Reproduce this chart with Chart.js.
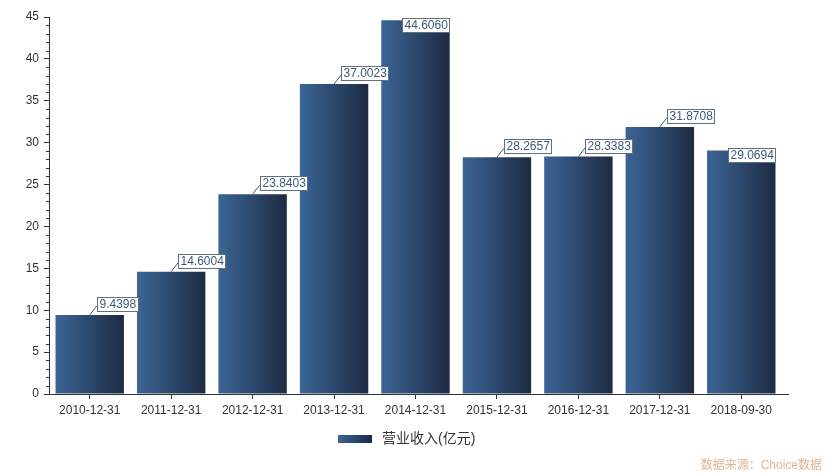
<!DOCTYPE html>
<html><head><meta charset="utf-8">
<script src="https://cdn.jsdelivr.net/npm/chart.js@4"></script>
<style>html,body{margin:0;padding:0;background:#fff;}#wrap{width:831px;height:474px;position:relative;}</style>
</head><body><div id="wrap"><canvas id="c" width="831" height="474"></canvas></div>
<script>
const categories = ['2010-12-31','2011-12-31','2012-12-31','2013-12-31','2014-12-31','2015-12-31','2016-12-31','2017-12-31','2018-09-30'];
const revenue = [9.4398, 14.6004, 23.8403, 37.0023, 44.6060, 28.2657, 28.3383, 31.8708, 29.0694];
const seriesName = '营业收入(亿元)';
const sourceNote = '数据来源：Choice数据';
const yMin = 0, yMax = 45, yStep = 5, yMinorStep = 1;

const FONT = '"Liberation Sans", Arial, "Noto Sans CJK SC", sans-serif';
const BAR_PCT = 0.84;

function barGradient(ctx, x0, x1) {
  const g = ctx.createLinearGradient(x0, 0, x1, 0);
  g.addColorStop(0, '#3b6596');
  g.addColorStop(1, '#1d2b42');
  return g;
}

const overlay = {
  id: 'overlay',
  afterDraw(chart) {
    const ctx = chart.ctx, ys = chart.scales.y, area = chart.chartArea;
    ctx.save();
    ctx.strokeStyle = '#333'; ctx.lineWidth = 1;
    for (let v = yMin; v <= yMax; v += yMinorStep) {
      if (v % yStep === 0) continue;
      const py = Math.round(ys.getPixelForValue(v)) + 0.5;
      ctx.beginPath(); ctx.moveTo(area.left - 3, py); ctx.lineTo(area.left, py); ctx.stroke();
    }
    // x axis line extends a little past the last category
    const ay = Math.round(area.bottom) + 0.5;
    ctx.beginPath(); ctx.moveTo(area.right, ay); ctx.lineTo(area.right + 7, ay); ctx.stroke();

    const meta = chart.getDatasetMeta(0);
    ctx.font = '12px ' + FONT;
    ctx.textBaseline = 'middle';
    meta.data.forEach((bar, i) => {
      const txt = revenue[i].toFixed(4);
      const w = ctx.measureText(txt).width + 4, h = 14;
      const cx = bar.x, top = bar.y, right = bar.x + bar.width / 2;
      let bx = cx + 7, by = top - 18, lead = true;
      if (bx + w > area.right + 7 || by < area.top) {
        bx = right - w; by = top - 2; lead = false;
      }
      if (lead) {
        ctx.strokeStyle = '#4a5a6a';
        ctx.beginPath(); ctx.moveTo(cx, top); ctx.lineTo(bx, top - 9); ctx.stroke();
      }
      ctx.fillStyle = '#fff';
      ctx.fillRect(Math.round(bx) + 0.5, Math.round(by) + 0.5, Math.round(w), h);
      ctx.strokeStyle = '#5f7080';
      ctx.strokeRect(Math.round(bx) + 0.5, Math.round(by) + 0.5, Math.round(w), h);
      ctx.fillStyle = '#3b5878';
      ctx.textAlign = 'left';
      ctx.fillText(txt, Math.round(bx) + 2.5, Math.round(by) + 8);
    });
    ctx.fillStyle = barGradient(ctx, 338, 372);
    ctx.fillRect(338, 435, 34, 8);
    ctx.fillStyle = '#333';
    ctx.font = '14px ' + FONT;
    ctx.textAlign = 'left';
    ctx.fillText(seriesName, 382, 439);
    ctx.fillStyle = '#e2b490';
    ctx.font = '12px ' + FONT;
    ctx.textAlign = 'right';
    ctx.fillText(sourceNote, 822, 466);
    ctx.restore();
  }
};

new Chart(document.getElementById('c'), {
  type: 'bar',
  data: {
    labels: categories,
    datasets: [{
      label: seriesName,
      data: revenue,
      borderWidth: 0,
      barPercentage: BAR_PCT,
      categoryPercentage: 1,
      backgroundColor: (c) => {
        const chart = c.chart, xs = chart.scales && chart.scales.x;
        if (!xs || c.dataIndex === undefined) return '#2c4a70';
        const cx = xs.getPixelForValue(c.dataIndex);
        const hw = (xs.width / categories.length) * BAR_PCT / 2;
        if (!isFinite(cx) || !isFinite(hw) || hw <= 0) return '#2c4a70';
        return barGradient(chart.ctx, cx - hw, cx + hw);
      }
    }]
  },
  options: {
    responsive: false,
    animation: false,
    devicePixelRatio: 1,
    layout: { padding: { left: 0, right: 49, top: 17, bottom: 50 } },
    plugins: { legend: { display: false }, tooltip: { enabled: false } },
    scales: {
      x: {
        grid: { display: true, drawOnChartArea: false, offset: false, tickLength: 5, color: '#333' },
        border: { display: true, color: '#333' },
        ticks: { color: '#333', font: { family: FONT, size: 12 }, padding: 4, maxRotation: 0, autoSkip: false },
        afterFit(s) { s.height = 30; }
      },
      y: {
        min: yMin, max: yMax,
        grid: { display: true, drawOnChartArea: false, tickLength: 5, color: '#333' },
        border: { display: true, color: '#333' },
        ticks: { stepSize: yStep, color: '#333', font: { family: FONT, size: 12 }, padding: 5 },
        afterFit(s) { s.width = 49; }
      }
    }
  },
  plugins: [overlay]
});
</script></body></html>
